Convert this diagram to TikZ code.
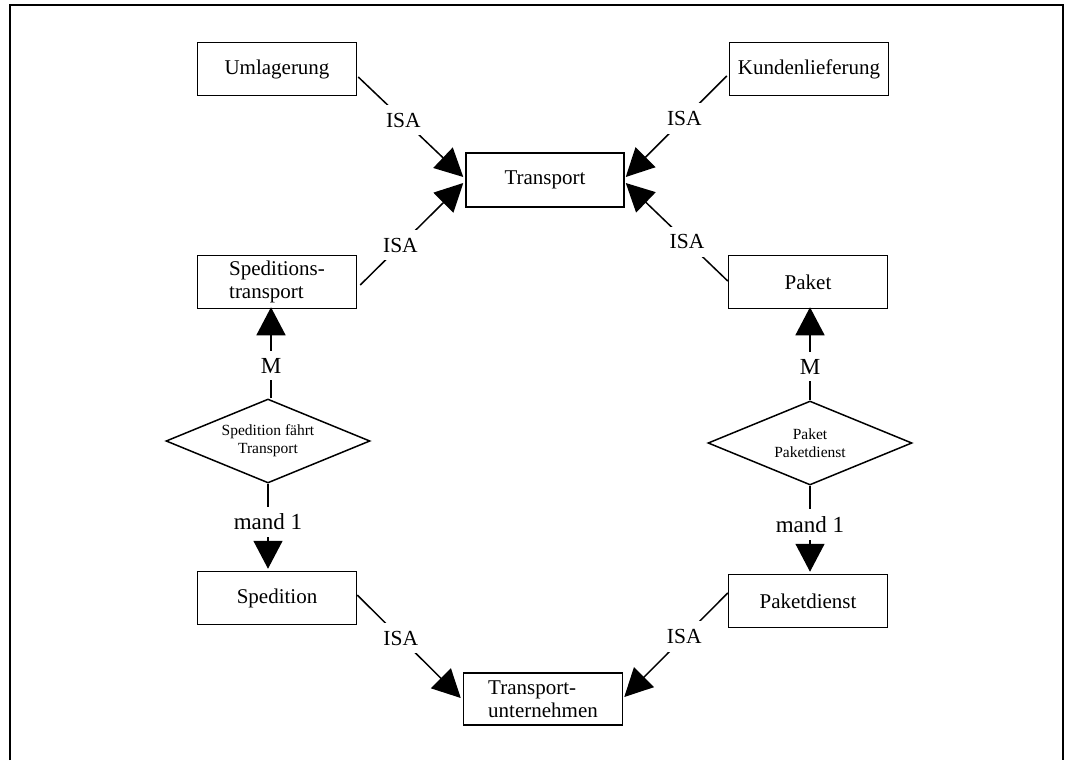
\documentclass[tikz,border=0pt]{standalone}
\usepackage{fontspec}
\setmainfont{Liberation Serif}
\usetikzlibrary{arrows.meta,shapes.geometric,calc}

\begin{document}
\begin{tikzpicture}[
  x=1pt, y=-1pt,
  line width=1.5pt,
  entity/.style={draw, rectangle, minimum width=159pt, minimum height=53pt,
    inner sep=0pt, font=\fontsize{21}{23}\selectfont},
  twoline/.style={entity, align=left},
  relship/.style={draw, diamond, aspect=2.43, minimum width=204pt,
    minimum height=84pt, inner sep=0pt, align=center,
    font=\fontsize{15.5}{18}\selectfont},
  isalink/.style={-{Triangle[length=28pt,width=28pt]}},
  card/.style={-{Triangle[length=28pt,width=29pt]}},
  isalbl/.style={fill=white, inner xsep=2pt, inner ysep=8pt,
    font=\fontsize{21.5}{23}\selectfont},
  cardlbl/.style={fill=white, inner xsep=2pt, inner ysep=7pt,
    font=\fontsize{23}{25}\selectfont}
]
\useasboundingbox (0,0) rectangle (1073,760);

% frame, open at the bottom
\draw (10,760) -- (10,5) -- (1063,5) -- (1063,760);

% entity types
\node[entity] (uml) at (277,69) {Umlagerung};
\node[entity] (kun) at (809,69) {Kundenlieferung};
\node[entity, minimum width=158pt, minimum height=54pt] (tra) at (545,180) {Transport};
\node[twoline] (spt) at (277,282) {Speditions-\\transport};
\node[entity] (pak) at (808,282) {Paket};
\node[entity] (spe) at (277,598) {Spedition};
\node[entity] (pdi) at (808,601) {Paketdienst};
\node[twoline, minimum height=52pt] (tun) at (543,699) {Transport-\\unternehmen};

% relationships
\node[relship] (rsp) at (268,441) {Spedition fährt\\Transport};
\node[relship] (rpk) at (810,443) {Paket\\Paketdienst};

% generalisations towards Transport
\draw[isalink] ($(uml.east)+(1,8)$) -- node[isalbl, pos=0.43] {ISA} ($(tra.west)+(-2,-3)$);
\draw[isalink] ($(kun.west)+(-2,7)$) -- node[isalbl, pos=0.42] {ISA} ($(tra.east)+(1,-3)$);
\draw[isalink] ($(spt.east)+(3,3)$) -- node[isalbl, pos=0.39] {ISA} ($(tra.west)+(-2,3)$);
\draw[isalink] ($(pak.west)+(0,-1)$) -- node[isalbl, pos=0.40] {ISA} ($(tra.east)+(1,3)$);

% generalisations towards Transportunternehmen
\draw[isalink] ($(spe.east)+(0,-3)$) -- node[isalbl, pos=0.42] {ISA} ($(tun.west)+(-2,-1)$);
\draw[isalink] ($(pdi.west)+(0,-8)$) -- node[isalbl, pos=0.42] {ISA} ($(tun.east)+(1,-2)$);

% relationship cardinalities
\draw[card] ($(rsp.north)+(3,0)$) -- node[cardlbl, pos=0.36] {M} ($(rsp.north |- spt.south)+(3,-2)$);
\draw[card] (rpk.north) -- node[cardlbl, pos=0.36] {M} ($(rpk.north |- pak.south)+(0,-2)$);
\draw[card] (rsp.south) -- node[cardlbl, pos=0.45] {mand 1} ($(rsp.south |- spe.north)+(0,-2)$);
\draw[card] (rpk.south) -- node[cardlbl, pos=0.45] {mand 1} ($(rpk.south |- pdi.north)+(0,-2)$);
\end{tikzpicture}
\end{document}
